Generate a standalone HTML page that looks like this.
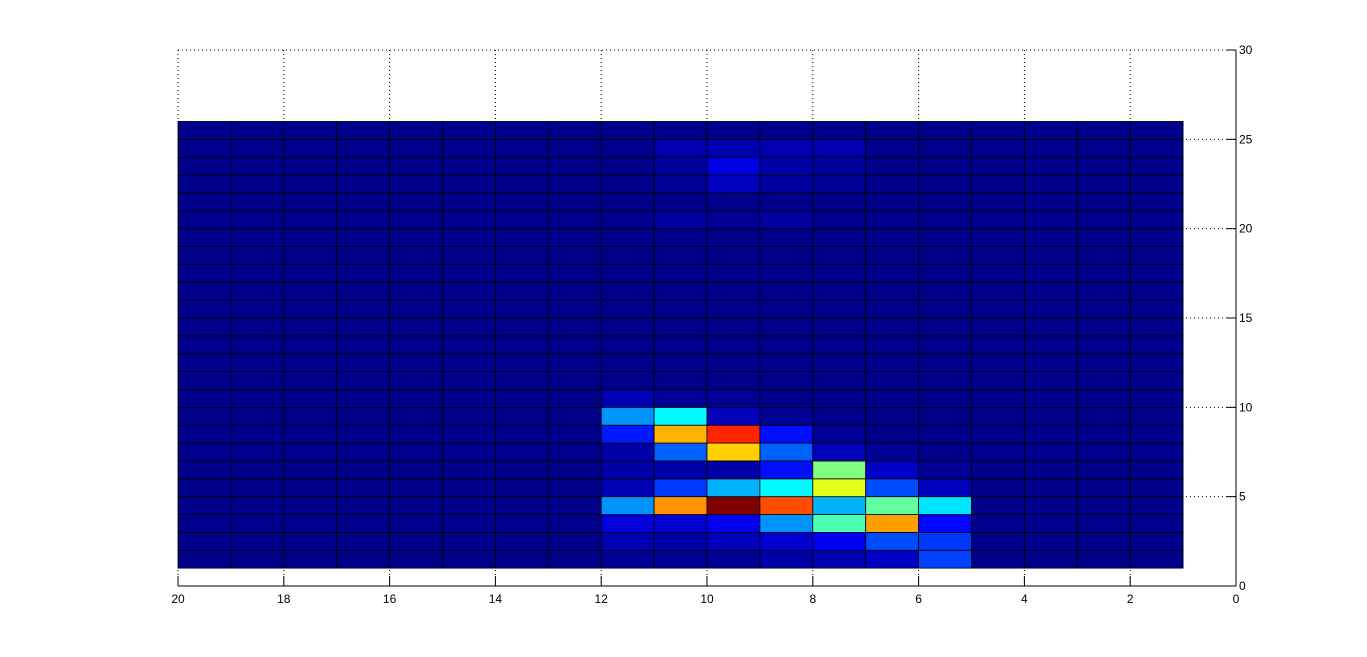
<!DOCTYPE html>
<html><head><meta charset="utf-8"><style>
html,body{margin:0;padding:0;background:#fff;width:1367px;height:657px;overflow:hidden}
svg{display:block}
text{font-family:"Liberation Sans",sans-serif;font-size:12px;fill:#000}
</style></head><body>
<svg id="chart" width="1367" height="657"></svg>
<script>
const xTicks=[0,2,4,6,8,10,12,14,16,18,20];
const yTicks=[0,5,10,15,20,25,30];
const xEdges=[20,19,18,17,16,15,14,13,12,11,10,9,8,7,6,5,4,3,2,1];
const yEdges=[1,2,3,4,5,6,7,8,9,10,11,12,13,14,15,16,17,18,19,20,21,22,23,24,25,26];
const bgValue=0.01;
// rows from bottom (y=1..2) upward; columns from x=20 to x=1
const row0 =[.01,.01,.01,.01,.01,.01,.01,.01,.02,.02,.02,.04,.05,.07,.19,.01,.01,.01,.01];
const row1 =[.01,.01,.01,.01,.01,.01,.01,.01,.05,.04,.06,.08,.12,.20,.18,.01,.01,.01,.01];
const row2 =[.01,.01,.01,.01,.01,.01,.01,.01,.09,.08,.11,.27,.45,.72,.13,.01,.01,.01,.01];
const row3 =[.01,.01,.01,.01,.01,.01,.01,.01,.27,.73,1.0,.80,.30,.47,.35,.01,.01,.01,.01];
const row4 =[.01,.01,.01,.01,.01,.01,.01,.01,.05,.18,.30,.37,.60,.20,.06,.01,.01,.01,.01];
const row5 =[.01,.01,.01,.01,.01,.01,.01,.01,.04,.04,.04,.14,.50,.07,.02,.01,.01,.01,.01];
const row6 =[.01,.01,.01,.01,.01,.01,.01,.01,.04,.22,.67,.22,.06,.02,.01,.01,.01,.01,.01];
const row7 =[.01,.01,.01,.01,.01,.01,.01,.01,.15,.70,.84,.14,.02,.01,.01,.01,.01,.01,.01];
const row8 =[.01,.01,.01,.01,.01,.01,.01,.01,.27,.37,.06,.02,.01,.01,.01,.01,.01,.01,.01];
const row9 =[.01,.01,.01,.01,.01,.01,.01,.01,.05,.02,.02,.01,.01,.01,.01,.01,.01,.01,.01];
const row19=[.01,.01,.01,.01,.01,.01,.01,.01,.01,.03,.02,.03,.01,.01,.01,.01,.01,.01,.01];
const row21=[.01,.01,.01,.01,.01,.01,.01,.01,.01,.02,.06,.03,.02,.01,.01,.01,.01,.01,.01];
const row22=[.01,.01,.01,.01,.01,.01,.01,.01,.01,.03,.10,.04,.03,.01,.01,.01,.01,.01,.01];
const row23=[.01,.01,.01,.01,.01,.01,.01,.01,.01,.05,.05,.05,.05,.01,.01,.01,.01,.01,.01];
const specialRows={0:row0,1:row1,2:row2,3:row3,4:row4,5:row5,6:row6,7:row7,8:row8,9:row9,19:row19,21:row21,22:row22,23:row23};

const NS="http://www.w3.org/2000/svg";
const svg=document.getElementById('chart');
const X0=178,X1=1236,Y0=586,Y1=50;
const xs=v=>X1-(v/20)*(X1-X0);
const ys=v=>Y0-(v/30)*(Y0-Y1);
function jet(v){
  const c=t=>Math.round(255*Math.max(0,Math.min(1,t)));
  const r=c(Math.min(4*v-1.5,-4*v+4.5));
  const g=c(Math.min(4*v-0.5,-4*v+3.5));
  const b=c(Math.min(4*v+0.5,-4*v+2.5));
  return `rgb(${r},${g},${b})`;
}
function mk(tag,attrs){const e=document.createElementNS(NS,tag);for(const k in attrs)e.setAttribute(k,attrs[k]);svg.appendChild(e);return e;}

xTicks.forEach(t=>{
  const l=mk('line',{x1:xs(t),x2:xs(t),y1:Y1,y2:Y0,stroke:'#000','stroke-dasharray':'1,3','stroke-width':1});
  
  
});
yTicks.forEach(t=>{
  const l=mk('line',{x1:X0,x2:X1,y1:ys(t),y2:ys(t),stroke:'#000','stroke-dasharray':'1,3','stroke-width':1});
  
  
});

for(let r=0;r<yEdges.length-1;r++){
  const vals=specialRows[r];
  for(let c=0;c<xEdges.length-1;c++){
    const v=vals?vals[c]:bgValue;
    const xa=xs(xEdges[c]),xb=xs(xEdges[c+1]);
    const ya=ys(yEdges[r+1]),yb=ys(yEdges[r]);
    const rect=mk('rect',{x:xa,y:ya,width:xb-xa,height:yb-ya,fill:jet(v),stroke:'#000','stroke-width':0.8});
    
    
  }
}

const xa=mk('line',{x1:X0,x2:X1,y1:Y0,y2:Y0,stroke:'#000','stroke-width':1});


const ya=mk('line',{x1:X1,x2:X1,y1:Y1,y2:Y0,stroke:'#000','stroke-width':1});


xTicks.forEach(t=>{
  mk('line',{x1:xs(t),x2:xs(t),y1:Y0,y2:Y0-10,stroke:'#000'});
  const tx=mk('text',{x:xs(t),y:Y0+17,'text-anchor':'middle'});
  tx.textContent=t;
  
  
});
yTicks.forEach(t=>{
  mk('line',{x1:X1,x2:X1-10,y1:ys(t),y2:ys(t),stroke:'#000'});
  const tx=mk('text',{x:X1+3,y:ys(t)+4});
  tx.textContent=t;
  
  
});
</script>
</body></html>
